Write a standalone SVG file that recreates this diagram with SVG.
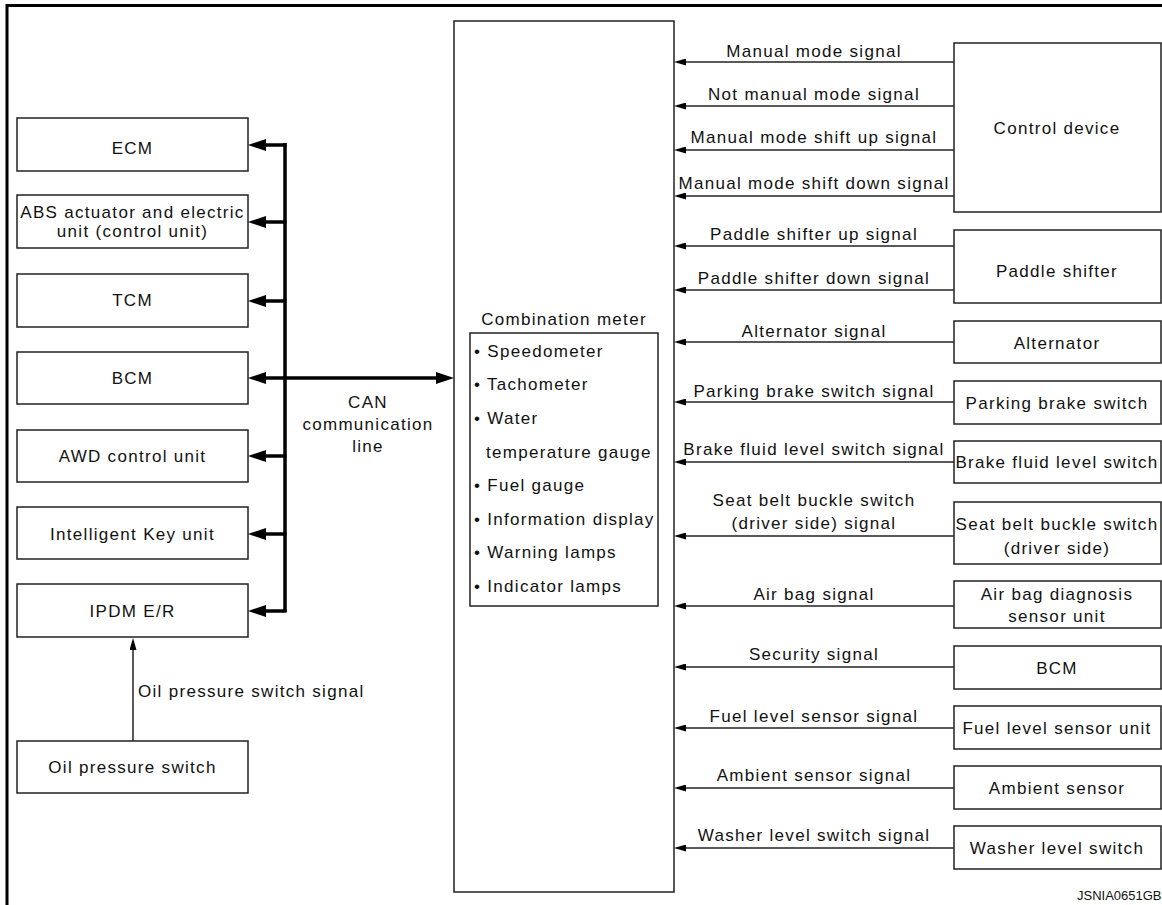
<svg xmlns="http://www.w3.org/2000/svg" width="1162" height="905" viewBox="0 0 1162 905">
<style>
text{font-family:"Liberation Sans",Arial,sans-serif;font-size:17px;letter-spacing:1.3px;fill:#111}
.c{text-anchor:middle}
.box{fill:#fff;stroke:#222;stroke-width:1.5}
.sig{stroke:#222;stroke-width:1.5;fill:none;marker-end:url(#sa)}
.bus{stroke:#000;stroke-width:3.5;fill:none}
.busa{stroke:#000;stroke-width:3.5;fill:none;marker-end:url(#ba)}
</style>
<defs>
<marker id="sa" markerUnits="userSpaceOnUse" markerWidth="12" markerHeight="7" refX="6" refY="3.5" orient="auto"><path d="M0,0 L12,3.5 L0,7 z" fill="#000"/></marker>
<marker id="ba" markerUnits="userSpaceOnUse" markerWidth="18" markerHeight="12" refX="8" refY="6" orient="auto"><path d="M0,0 L18,6 L0,12 z" fill="#000"/></marker>
<marker id="bs" markerUnits="userSpaceOnUse" markerWidth="18" markerHeight="12" refX="8" refY="6" orient="auto-start-reverse"><path d="M0,0 L18,6 L0,12 z" fill="#000"/></marker>
</defs>
<rect width="1162" height="905" fill="#fff"/>
<path d="M7,905 V5.5 H1162" fill="none" stroke="#000" stroke-width="3"/>

<g id="ecm"><rect class="box" x="17" y="118" width="231" height="53"/><text class="c" x="132.5" y="154">ECM</text></g>
<g id="abs"><rect class="box" x="17" y="195" width="231" height="53"/><text class="c" x="132.5" y="218">ABS actuator and electric</text><text class="c" x="132.5" y="237">unit (control unit)</text></g>
<g id="tcm"><rect class="box" x="17" y="274" width="231" height="53"/><text class="c" x="132.5" y="306">TCM</text></g>
<g id="bcm-left"><rect class="box" x="17" y="352" width="231" height="52"/><text class="c" x="132.5" y="384">BCM</text></g>
<g id="awd"><rect class="box" x="17" y="430" width="231" height="52"/><text class="c" x="132.5" y="462">AWD control unit</text></g>
<g id="ikey"><rect class="box" x="17" y="507" width="231" height="52"/><text class="c" x="132.5" y="540">Intelligent Key unit</text></g>
<g id="ipdm"><rect class="box" x="17" y="584" width="231" height="53"/><text class="c" x="132.5" y="617">IPDM E/R</text></g>
<g id="oilsw"><rect class="box" x="17" y="741" width="231" height="52"/><text class="c" x="132.5" y="773">Oil pressure switch</text></g>

<g id="meter">
<rect class="box" x="454" y="21" width="220" height="871"/>
<text class="c" x="564" y="325">Combination meter</text>
<rect class="box" x="470" y="333" width="188" height="273"/>
<g>
<text x="474" y="357">• Speedometer</text>
<text x="474" y="390">• Tachometer</text>
<text x="474" y="424">• Water</text>
<text x="486" y="458">temperature gauge</text>
<text x="474" y="491">• Fuel gauge</text>
<text x="474" y="525">• Information display</text>
<text x="474" y="558">• Warning lamps</text>
<text x="474" y="592">• Indicator lamps</text>
</g>
</g>

<g id="ctrl"><rect class="box" x="954" y="43" width="207" height="169"/><text class="c" x="1057" y="134">Control device</text></g>
<g id="paddle"><rect class="box" x="954" y="230" width="207" height="73"/><text class="c" x="1057" y="277">Paddle shifter</text></g>
<g id="alt"><rect class="box" x="954" y="321" width="207" height="42"/><text class="c" x="1057" y="349">Alternator</text></g>
<g id="pbsw"><rect class="box" x="954" y="381" width="207" height="43"/><text class="c" x="1057" y="409">Parking brake switch</text></g>
<g id="bfsw"><rect class="box" x="954" y="441" width="207" height="42"/><text class="c" x="1057" y="468">Brake fluid level switch</text></g>
<g id="seat"><rect class="box" x="954" y="502" width="207" height="62"/><text class="c" x="1057" y="530">Seat belt buckle switch</text><text class="c" x="1057" y="554">(driver side)</text></g>
<g id="airbag"><rect class="box" x="954" y="581" width="207" height="47"/><text class="c" x="1057" y="600">Air bag diagnosis</text><text class="c" x="1057" y="622">sensor unit</text></g>
<g id="bcm-right"><rect class="box" x="954" y="646" width="207" height="43"/><text class="c" x="1057" y="674">BCM</text></g>
<g id="fuel"><rect class="box" x="954" y="706" width="207" height="43"/><text class="c" x="1057" y="734">Fuel level sensor unit</text></g>
<g id="ambient"><rect class="box" x="954" y="766" width="207" height="43"/><text class="c" x="1057" y="794">Ambient sensor</text></g>
<g id="washer"><rect class="box" x="954" y="826" width="207" height="43"/><text class="c" x="1057" y="854">Washer level switch</text></g>

<g id="connectors">
<path class="bus" d="M285,143 V612"/>
<path class="busa" d="M286.5,145 H258"/>
<path class="busa" d="M286.5,222 H258"/>
<path class="busa" d="M286.5,301 H258"/>
<path class="busa" d="M286.5,456 H258"/>
<path class="busa" d="M286.5,534 H258"/>
<path class="busa" d="M286.5,611 H258"/>
<path d="M258,378 H444" stroke="#000" stroke-width="3.5" fill="none" marker-start="url(#bs)" marker-end="url(#bs)"/>
<text class="c" x="368" y="408">CAN</text>
<text class="c" x="368" y="430">communication</text>
<text class="c" x="368" y="452">line</text>

<path class="sig" d="M133,741 V644"/>
<text x="138" y="697">Oil pressure switch signal</text>

<path class="sig" d="M954,62 H680"/><text class="c" x="814" y="57">Manual mode signal</text>
<path class="sig" d="M954,106 H680"/><text class="c" x="814" y="100">Not manual mode signal</text>
<path class="sig" d="M954,150 H680"/><text class="c" x="814" y="143">Manual mode shift up signal</text>
<path class="sig" d="M954,196 H680"/><text class="c" x="814" y="189">Manual mode shift down signal</text>
<path class="sig" d="M954,246 H680"/><text class="c" x="814" y="240">Paddle shifter up signal</text>
<path class="sig" d="M954,290 H680"/><text class="c" x="814" y="284">Paddle shifter down signal</text>
<path class="sig" d="M954,342 H680"/><text class="c" x="814" y="337">Alternator signal</text>
<path class="sig" d="M954,402 H680"/><text class="c" x="814" y="397">Parking brake switch signal</text>
<path class="sig" d="M954,462 H680"/><text class="c" x="814" y="455">Brake fluid level switch signal</text>
<path class="sig" d="M954,536 H680"/><text class="c" x="814" y="506">Seat belt buckle switch</text><text class="c" x="814" y="529">(driver side) signal</text>
<path class="sig" d="M954,606 H680"/><text class="c" x="814" y="600">Air bag signal</text>
<path class="sig" d="M954,667 H680"/><text class="c" x="814" y="660">Security signal</text>
<path class="sig" d="M954,728 H680"/><text class="c" x="814" y="722">Fuel level sensor signal</text>
<path class="sig" d="M954,788 H680"/><text class="c" x="814" y="781">Ambient sensor signal</text>
<path class="sig" d="M954,848 H680"/><text class="c" x="814" y="841">Washer level switch signal</text>
</g>
<text x="1077" y="900" style="font-size:13px;letter-spacing:0">JSNIA0651GB</text>
</svg>
